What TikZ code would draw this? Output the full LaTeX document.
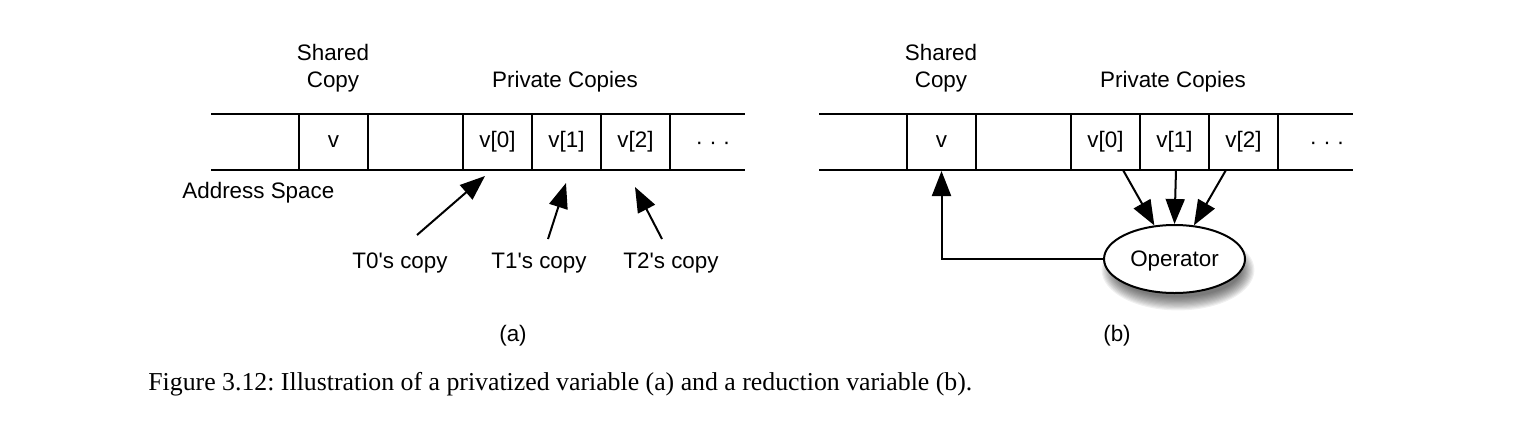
\documentclass[tikz,border=0pt]{standalone}
\usepackage{fontspec}
\setmainfont{Liberation Sans}
\newfontfamily\capfont{Liberation Serif}
\usetikzlibrary{arrows.meta,calc,shapes.geometric}
\frenchspacing
\begin{document}
\begin{tikzpicture}[x=0.5pt,y=-0.5pt,
  cell/.style={draw,line width=1pt,minimum width=34.5pt,minimum height=28pt,inner sep=0pt,font=\fontsize{11.2}{13}\selectfont},
  lbl/.style={font=\fontsize{11.2}{13.5}\selectfont,inner sep=0pt,align=center},
  arr/.style={line width=1pt,-{Triangle[length=12.5pt,width=9.5pt]}},
  rail/.style={line width=1pt},
  opnode/.style={ellipse,draw,line width=1pt,fill=white,minimum width=70.5pt,minimum height=34pt,inner sep=0pt,text depth=0pt,font=\fontsize{11.2}{13}\selectfont}]
\useasboundingbox (0,0) rectangle (1529,445);

% ---------- panel (a) ----------
\coordinate (aL1) at (211,114); \coordinate (aR1) at (745,114);
\coordinate (aL2) at (211,170); \coordinate (aR2) at (745,170);
\draw[rail] (aL1) -- (aR1);
\draw[rail] (aL2) -- (aR2);
\node[cell] (av)  at (333.5,142) {v};
\node[cell] (av0) at (497.5,142) {v[0]};
\node[cell] (av1) at (566.5,142) {v[1]};
\node[cell] (av2) at (635.5,142) {v[2]};
\node[lbl] (adots) at (713,146) {· · ·};
\node[lbl] (ashared) at (333,68.5) {Shared\\Copy};
\node[lbl] (apriv) at (565,82) {Private Copies};
\node[lbl,anchor=west] (aaddr) at (182,193) {Address Space};
\node[lbl] (t0) at (400,263) {T0\textquotesingle s copy};
\node[lbl] (t1) at (539,263) {T1\textquotesingle s copy};
\node[lbl] (t2) at (671,263) {T2\textquotesingle s copy};
\coordinate (t0s) at (417,235); \coordinate (t0e) at (485,176);
\coordinate (t1s) at (548,239); \coordinate (t1e) at (566,183);
\coordinate (t2s) at (662,239); \coordinate (t2e) at (635,187);
\draw[arr] (t0s) -- (t0e);
\draw[arr] (t1s) -- (t1e);
\draw[arr] (t2s) -- (t2e);
\node[lbl] (la) at (513,336) {(a)};

% ---------- panel (b) ----------
\coordinate (bL1) at (819,114); \coordinate (bR1) at (1353,114);
\coordinate (bL2) at (819,170); \coordinate (bR2) at (1353,170);
\draw[rail] (bL1) -- (bR1);
\draw[rail] (bL2) -- (bR2);
\node[cell] (bv)  at (941.5,142) {v};
\node[cell] (bv0) at (1105.5,142) {v[0]};
\node[cell] (bv1) at (1174.5,142) {v[1]};
\node[cell] (bv2) at (1243.5,142) {v[2]};
\node[lbl] (bdots) at (1327,146) {· · ·};
\node[lbl] (bshared) at (941,68.5) {Shared\\Copy};
\node[lbl] (bpriv) at (1173,82) {Private Copies};

% shadow of the operator ellipse
\foreach \k in {1,...,12}
  \fill[black,opacity=0.06] (1178,270) ellipse [x radius={31pt+\k*0.6pt}, y radius={13pt+\k*0.6pt}];
\node[opnode] (op) at (1174.5,259) {Operator};

\coordinate (b0s) at (1123,170);
\coordinate (b1s) at (1176,170);
\coordinate (b2s) at (1226,170);
\draw[arr] (b0s) -- (op.121);
\draw[arr] (b1s) -- (op.90);
\draw[arr] (b2s) -- (op.60);
\draw[arr] (op.west) -| (bv.south);
\node[lbl] (lb) at (1117,336) {(b)};

% ---------- caption ----------
\node[anchor=base west,inner sep=0pt,font=\capfont\fontsize{12.9}{15}\selectfont] (cap) at (148,390)
  {Figure 3.12: Illustration of a privatized variable (a) and a reduction variable (b).};
\end{tikzpicture}
\end{document}
